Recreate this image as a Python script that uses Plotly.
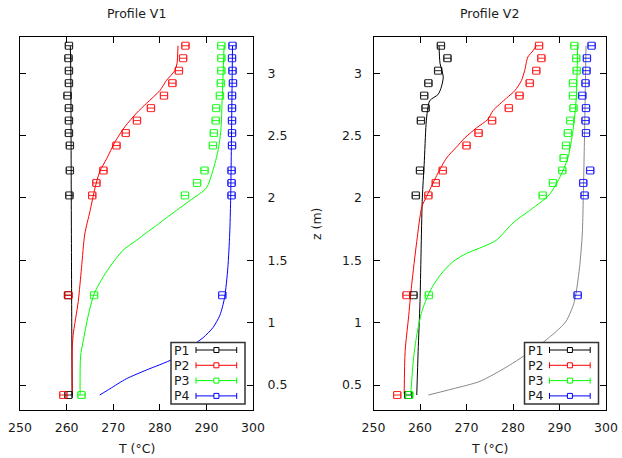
import plotly.graph_objects as go

# Measurement heights (m)
Z_MEAS = [3.22, 3.12, 3.02, 2.92, 2.82, 2.72, 2.62, 2.52, 2.42, 2.32, 2.22, 2.12, 2.02, 1.22, 0.42]

# Measured temperatures, profile V1 (°C); None = no reading at that height
V1_P1 = [260.5, 260.4, 260.5, 260.5, 260.2, 260.5, 260.5, 260.5, 260.7, None, 260.7, None, 260.6, 260.3, 260.4]
V1_P2 = [285.5, 285.0, 284.1, 282.7, 280.9, 278.1, 275.1, 272.7, 270.7, None, 267.9, 266.4, 265.5, 260.4, 259.3]
V1_P3 = [293.2, 293.2, 293.2, 293.1, 292.9, 292.1, 292.0, 291.6, 291.4, None, 289.6, 288.0, 285.4, 265.9, 263.2]
V1_P4 = [295.6, 295.5, 295.6, 295.7, 295.5, 295.5, 295.5, 295.5, 295.5, None, 295.4, 295.4, 295.4, 293.4, None]

# Measured temperatures, profile V2 (°C)
V2_P1 = [264.5, 265.9, 263.9, 261.8, 260.9, 261.2, 260.2, None, None, None, 260.0, None, 259.1, 258.6, 257.5]
V2_P2 = [285.6, 286.1, 285.0, 283.6, 281.4, 279.1, 275.5, 272.6, 270.0, None, 264.9, 263.4, 261.8, 257.1, 255.1]
V2_P3 = [293.2, 293.6, 293.7, 292.9, 292.9, 293.0, 292.3, 291.8, 291.4, 290.9, 290.6, 288.6, 286.4, 261.9, 257.7]
V2_P4 = [296.9, 295.9, 295.8, 295.6, 294.9, 295.7, 295.6, 295.7, None, None, 296.6, 295.1, 295.4, 293.9, None]

T_ERR = 0.8  # measurement uncertainty (°C)

# Computed profiles, V1
S1_P1_Z = [0.41, 1.0, 2.0, 3.0, 3.22]
S1_P1_T = [261.2, 261.1, 261.0, 260.9, 260.8]
S1_P2_Z = [0.42, 0.77, 0.90, 1.17, 1.44, 1.71, 1.89, 2.08, 2.21, 2.315, 2.45, 2.57, 2.68, 2.76, 2.86, 2.94, 3.02, 3.08, 3.22]
S1_P2_T = [261.2, 261.2, 261.4, 262.5, 263.2, 263.9, 265.0, 266.1, 267.1, 268.6, 270.4, 272.5, 275.0, 277.2, 280.0, 281.4, 283.2, 283.7, 283.9]
S1_P3_Z = [0.42, 0.73, 0.86, 1.05, 1.23, 1.37, 1.47, 1.58, 1.66, 1.72, 1.78, 1.84, 1.90, 1.98, 2.08, 2.22, 2.38, 2.54, 2.81, 3.22]
S1_P3_T = [262.9, 263.0, 263.6, 264.6, 265.9, 267.9, 269.7, 272.1, 275.0, 277.1, 279.3, 281.4, 283.6, 286.5, 290.0, 291.4, 292.5, 293.1, 293.4, 293.8]
S1_P4_Z = [0.42, 0.47, 0.55, 0.62, 0.71, 0.82, 0.88, 0.96, 1.06, 1.20, 1.44, 1.71, 1.98, 2.54, 3.22]
S1_P4_T = [267.1, 269.3, 272.8, 277.1, 282.9, 287.1, 289.3, 291.4, 292.9, 293.9, 294.6, 295.0, 295.2, 295.4, 295.6]

# Computed profiles, V2
S2_P1_Z = [0.42, 0.77, 1.17, 2.0, 2.27, 2.59, 2.70, 2.78, 2.83, 2.89, 2.97, 3.08, 3.22]
S2_P1_T = [259.3, 259.6, 260.0, 260.5, 260.9, 261.3, 261.6, 262.1, 263.9, 264.6, 265.0, 264.3, 264.1]
S2_P2_Z = [0.43, 0.77, 1.03, 1.30, 1.65, 1.93, 2.01, 2.18, 2.32, 2.41, 2.48, 2.56, 2.63, 2.70, 2.80, 2.86, 2.94, 3.02, 3.13, 3.18, 3.22]
S2_P2_T = [256.6, 256.8, 257.5, 258.2, 259.3, 260.4, 261.4, 263.6, 265.7, 267.9, 269.6, 272.1, 274.6, 275.7, 278.6, 280.4, 281.8, 282.5, 283.2, 284.3, 285.0]
S2_P3_Z = [0.42, 0.71, 0.90, 1.09, 1.25, 1.38, 1.49, 1.555, 1.61, 1.66, 1.80, 1.90, 1.97, 2.03, 2.16, 2.32, 2.54, 2.80, 3.22]
S2_P3_T = [258.0, 258.6, 259.3, 260.4, 262.1, 264.3, 267.1, 270.0, 273.6, 276.4, 280.0, 283.6, 286.1, 287.9, 290.0, 291.8, 292.9, 293.6, 293.9]
S2_P4_Z = [0.42, 0.47, 0.53, 0.66, 0.82, 0.93, 1.01, 1.17, 1.44, 1.71, 1.98, 2.54, 3.22]
S2_P4_T = [261.8, 267.1, 272.9, 279.3, 285.7, 289.3, 291.4, 293.2, 294.3, 294.9, 295.1, 295.4, 295.7]

NAMES = ["P1", "P2", "P3", "P4"]
COLORS = ["#000000", "#ff0000", "#00ff00", "#0000ff"]
X_TICKS = [250, 260, 270, 280, 290, 300]
Z_TICKS = [0.5, 1, 1.5, 2, 2.5, 3]
Z_TICK_TEXT = ["0.5", "1", "1.5", "2", "2.5", "3"]

W, H = 622, 458
FONT = "DejaVu Sans, Liberation Sans, sans-serif"

fig = go.Figure()


def add_panel(xa, ya, meas, sims, sim_colors):
    for (tz, tt), col in zip(sims, sim_colors):
        fig.add_trace(go.Scatter(x=tt, y=tz, mode="lines", xaxis=xa, yaxis=ya,
                                 line=dict(color=col, width=1, shape="spline", smoothing=0.7),
                                 showlegend=False, hoverinfo="skip"))
    for vals, col in zip(meas, COLORS):
        fig.add_trace(go.Scatter(
            x=vals, y=Z_MEAS, mode="markers", xaxis=xa, yaxis=ya, showlegend=False,
            marker=dict(symbol="square-open", size=7, color=col, line=dict(width=1, color=col)),
            error_x=dict(type="constant", value=T_ERR, thickness=1, width=3, color=col),
            opacity=0.85))


add_panel("x", "y", [V1_P1, V1_P2, V1_P3, V1_P4],
          [(S1_P1_Z, S1_P1_T), (S1_P2_Z, S1_P2_T), (S1_P3_Z, S1_P3_T), (S1_P4_Z, S1_P4_T)],
          ["#000000", "#ff0000", "#00ff00", "#0000ff"])
add_panel("x2", "y2", [V2_P1, V2_P2, V2_P3, V2_P4],
          [(S2_P1_Z, S2_P1_T), (S2_P2_Z, S2_P2_T), (S2_P3_Z, S2_P3_T), (S2_P4_Z, S2_P4_T)],
          ["#000000", "#ff0000", "#00ff00", "#888888"])

# panel frames in pixels
LEFT = (20, 253)
RIGHT = (373.5, 606)
TOP, BOTTOM = 37, 410
ydom = [1 - BOTTOM / H, 1 - TOP / H]

axis_common = dict(showline=True, linecolor="black", linewidth=1, mirror="ticks",
                   ticks="inside", ticklen=6, tickcolor="black", showgrid=False,
                   zeroline=False, automargin=False,
                   tickfont=dict(family=FONT, size=12.5, color="#1a1a1a"))

fig.update_layout(
    width=W, height=H, margin=dict(l=0, r=0, t=0, b=0, autoexpand=False),
    paper_bgcolor="white", plot_bgcolor="white", showlegend=False,
    xaxis=dict(domain=[LEFT[0] / W, LEFT[1] / W], range=[250, 300], tickvals=X_TICKS,
               anchor="y", ticklabelstandoff=6, **axis_common),
    yaxis=dict(domain=ydom, range=[0.3, 3.29], tickvals=Z_TICKS, ticktext=Z_TICK_TEXT,
               side="right", anchor="x", ticklabelstandoff=11, **axis_common),
    xaxis2=dict(domain=[RIGHT[0] / W, RIGHT[1] / W], range=[250, 300], tickvals=X_TICKS,
                anchor="y2", ticklabelstandoff=6, **axis_common),
    yaxis2=dict(domain=ydom, range=[0.3, 3.29], tickvals=Z_TICKS, ticktext=Z_TICK_TEXT,
                side="left", anchor="x2", ticklabelstandoff=8, **axis_common),
)

# titles and axis labels
font = dict(family=FONT, size=12.5, color="#1a1a1a")
for (l, r), title in [(LEFT, "Profile V1"), (RIGHT, "Profile V2")]:
    cx = (l + r) / 2 / W
    fig.add_annotation(text=title, x=cx, y=1 - 13 / H, xref="paper", yref="paper",
                       showarrow=False, font=font, xanchor="center", yanchor="middle")
    fig.add_annotation(text="T (°C)", x=cx, y=1 - 448 / H, xref="paper", yref="paper",
                       showarrow=False, font=font, xanchor="center", yanchor="middle")
fig.add_annotation(text="z (m)", x=316 / W, y=1 - 224 / H, xref="paper", yref="paper",
                   showarrow=False, font=font, textangle=-90, xanchor="center", yanchor="middle")

# key box in the lower right of each panel
for xa, (l, r) in [("x", LEFT), ("x2", RIGHT)]:
    pw, ph = r - l, BOTTOM - TOP
    xref, yref = xa + " domain", ("y" if xa == "x" else "y2") + " domain"
    fx = lambda px: px / pw
    fy = lambda px: px / ph
    fig.add_shape(type="rect", xref=xref, yref=yref, x0=fx(151), x1=fx(225), y0=fy(6), y1=fy(67.5),
                  line=dict(color="#333333", width=1.5), fillcolor="white", layer="above")
    for i, (name, col) in enumerate(zip(NAMES, COLORS)):
        yy = fy(60 - i * 15.3)
        fig.add_annotation(text=name, x=fx(152.5), y=yy, xref=xref, yref=yref, showarrow=False,
                           xanchor="left", yanchor="middle", font=font)
        x0, x1, xm = fx(176), fx(216.7), fx(196.4)
        fig.add_shape(type="line", xref=xref, yref=yref, x0=x0, x1=x1, y0=yy, y1=yy,
                      line=dict(color=col, width=1), layer="above")
        for xc in (x0, x1):
            fig.add_shape(type="line", xref=xref, yref=yref, x0=xc, x1=xc,
                          y0=yy - fy(3), y1=yy + fy(3), line=dict(color=col, width=1), layer="above")
        fig.add_shape(type="rect", xref=xref, yref=yref, x0=xm - fx(2.5), x1=xm + fx(2.5),
                      y0=yy - fy(2.5), y1=yy + fy(2.5), line=dict(color=col, width=1),
                      fillcolor="white", layer="above")

fig.write_html("out.html")
